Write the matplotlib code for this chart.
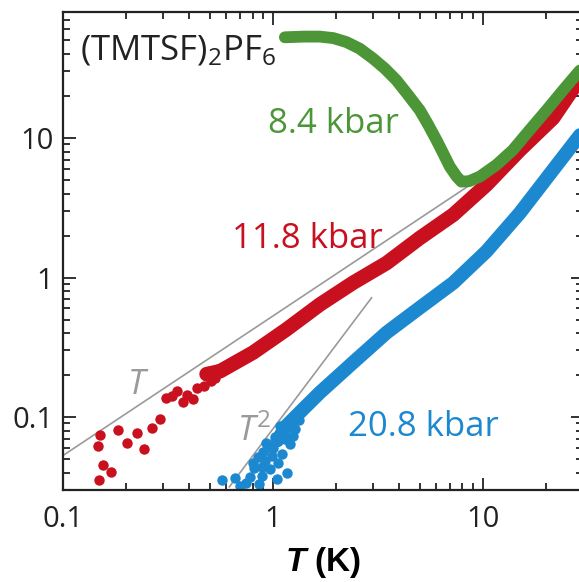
import matplotlib
matplotlib.use("Agg")
import matplotlib.pyplot as plt
from matplotlib.ticker import FixedLocator, NullFormatter, FuncFormatter, LogLocator

plt.rcParams['font.family'] = ['Open Sans', 'DejaVu Sans']
plt.rcParams['mathtext.fontset'] = 'custom'
plt.rcParams['mathtext.rm'] = 'Open Sans'
plt.rcParams['mathtext.it'] = 'Open Sans:italic'
plt.rcParams['mathtext.bfit'] = 'Liberation Sans:italic:bold'

# 8.4 kbar (green curve)
green_T = [1.14, 1.4, 1.675, 1.94, 2.24, 2.59, 3.0, 3.41, 3.88, 4.41, 5.01, 5.5, 6.01, 6.47, 6.96,
           7.5, 7.9, 8.6, 9.68, 11.6, 13.9, 16.7, 20.1, 24.1, 28.6, 30.5]
green_R = [52.7, 53.3, 53.3, 52.0, 48.7, 43.7, 37.1, 31.5, 25.9, 20.3, 15.8, 12.4, 9.68, 7.78, 6.24,
           5.3, 4.87, 4.9, 5.29, 6.41, 8.2, 11.4, 15.8, 22.0, 29.8, 33.0]

# 11.8 kbar (red), dense part and sparse low-T points
red_T = [0.483, 0.56, 0.805, 1.161, 1.675, 2.41, 3.48, 5.01, 7.23, 10.4, 15.0, 21.6, 28.6, 30.5]
red_R = [0.203, 0.213, 0.29, 0.425, 0.641, 0.917, 1.27, 1.92, 2.82, 4.62, 8.2, 13.9, 25.9, 29.0]
red_pts_T = [0.150, 0.147, 0.155, 0.169, 0.149, 0.183, 0.202, 0.224, 0.243, 0.264, 0.290,
             0.309, 0.330, 0.350, 0.374, 0.391, 0.415, 0.436, 0.469, 0.492, 0.530, 0.505, 0.55]
red_pts_R = [0.0744, 0.0618, 0.0454, 0.0403, 0.0351, 0.0811, 0.0649, 0.0765, 0.0591, 0.0839, 0.0968,
             0.136, 0.141, 0.154, 0.129, 0.145, 0.134, 0.162, 0.167, 0.209, 0.192, 0.18, 0.22]

# 20.8 kbar (blue), dense part and sparse low-T points
blue_T = [1.05, 1.161, 1.393, 1.675, 2.41, 3.48, 5.01, 7.23, 10.4, 15.0, 21.6, 28.6, 30.5]
blue_R = [0.068, 0.0867, 0.114, 0.150, 0.246, 0.403, 0.608, 0.916, 1.54, 2.90, 5.91, 10.2, 11.5]
blue_pts_T = [0.570, 0.659, 0.697, 0.776, 0.812, 0.883, 0.916, 0.986, 1.042, 1.170, 1.023,
              1.079, 0.946, 0.849, 0.887, 1.104, 1.205, 1.141, 0.968, 0.743, 1.273, 1.057,
              0.90, 0.93, 1.00, 1.12, 1.25, 1.33, 0.80, 0.86]
blue_pts_R = [0.0351, 0.0367, 0.0323, 0.0373, 0.0432, 0.0381, 0.0487, 0.0529, 0.0361, 0.0396, 0.0720,
              0.0867, 0.0610, 0.0518, 0.0440, 0.0544, 0.0641, 0.0697, 0.0425, 0.0338, 0.0820, 0.0469,
              0.0560, 0.0650, 0.0600, 0.0760, 0.0730, 0.0950, 0.0470, 0.0330]

# guide lines (end points)
lin_T = [0.1, 8.6]
lin_R = [0.053, 4.56]
sq_T = [0.62, 2.95]
sq_R = [0.0316, 0.716]

green = '#4c9638'
red = '#c8101e'
blue = '#1b88cf'
gray = '#9a9a9a'

fig = plt.figure(figsize=(5.79, 5.82), dpi=100)
ax = fig.add_axes([63/579, 1 - 490/582, (583 - 63)/579, (490 - 12)/582])

ax.plot(lin_T, lin_R, color=gray, lw=1.2, zorder=1)
ax.plot(sq_T, sq_R, color=gray, lw=1.2, zorder=1)

ax.plot(blue_pts_T, blue_pts_R, 'o', color=blue, ms=7.5, mec='none', zorder=2)
ax.plot(blue_T, blue_R, color=blue, lw=10, solid_capstyle='round', zorder=2)
ax.plot(red_pts_T, red_pts_R, 'o', color=red, ms=7.5, mec='none', zorder=3)
ax.plot(red_T, red_R, color=red, lw=10.5, solid_capstyle='round', zorder=3)
ax.plot(green_T, green_R, color=green, lw=8.5, solid_capstyle='round', solid_joinstyle='round', zorder=4)

ax.set_xscale('log')
ax.set_yscale('log')
ax.set_xlim(0.1, 30)
ax.set_ylim(0.03, 80)

fmt = FuncFormatter(lambda v, p: '{:g}'.format(v))
for a in (ax.xaxis, ax.yaxis):
    a.set_major_locator(FixedLocator([0.1, 1, 10]))
    a.set_major_formatter(fmt)
    a.set_minor_locator(LogLocator(base=10, subs=range(2, 10)))
    a.set_minor_formatter(NullFormatter())

ax.tick_params(which='both', direction='in', top=True, right=True, width=1.3, labelsize=21, colors='#222222')
ax.tick_params(which='major', length=9)
ax.tick_params(which='minor', length=5)
ax.tick_params(axis='x', pad=11)
ax.tick_params(axis='y', pad=7)
for s in ax.spines.values():
    s.set_linewidth(1.6)
    s.set_color('#222222')

ax.set_xlabel(r'$\mathbfit{T}$ (K)', fontfamily='Liberation Sans', fontweight='bold', fontsize=24, labelpad=8)

ax.text(0.120, 36.1, r'(TMTSF)$_2$PF$_6$', fontsize=25, color='#222222', va='baseline')
ax.text(0.946, 10.9, '8.4 kbar', fontsize=25, color=green, va='baseline')
ax.text(0.636, 1.63, '11.8 kbar', fontsize=25, color=red, va='baseline')
ax.text(2.28, 0.0735, '20.8 kbar', fontsize=25, color=blue, va='baseline')
ax.text(0.201, 0.146, r'$T$', fontsize=25, color=gray, va='baseline')
ax.text(0.671, 0.0677, r'$T^2$', fontsize=25, color=gray, va='baseline')

fig.savefig('out.png', dpi=100)
